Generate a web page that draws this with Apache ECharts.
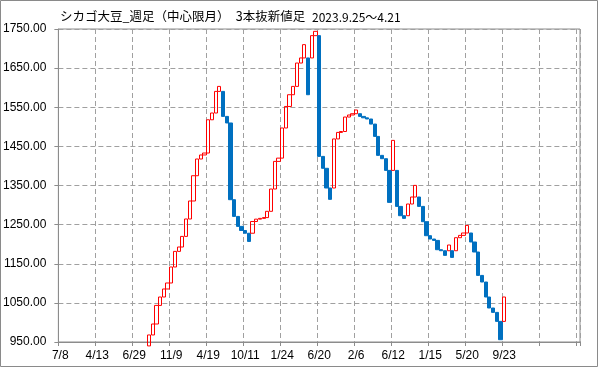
<!DOCTYPE html>
<html>
<head>
<meta charset="utf-8">
<script src="https://cdn.jsdelivr.net/npm/echarts@6/dist/echarts.min.js"></script>
<style>
html,body{margin:0;padding:0;background:#fff;}
#c{width:599px;height:369px;}
</style>
</head>
<body>
<div id="c"></div>
<script>
// Axis tick labels (every 10th line of the chart)
const tickLabels = ['7/8','4/13','6/29','11/9','4/19','10/11','1/24','6/20','2/6','6/12','1/15','5/20','9/23'];
// Number of lines before the first one visible (below 950) and empty slots after the last one
const hiddenLeading = 24;
const emptyTrailing = 20;
// Three-line-break lines: opening and closing values, in order
const lineOpen = [
  940, 968, 996, 1043.5, 1065, 1085.5, 1100.8, 1141.7, 1181.6, 1192.8,
  1219.9, 1264.4, 1310.4, 1375, 1417.7, 1428, 1433, 1518, 1535.3, 1590.5,
  1590.5, 1526.6, 1509.8, 1313.7, 1271, 1245.5, 1235, 1228, 1228, 1258,
  1264, 1266, 1268, 1284, 1341, 1411.6, 1420, 1497, 1552, 1582,
  1603.3, 1663, 1676, 1676, 1676, 1733, 1733, 1424.4, 1394, 1343.6,
  1343.6, 1469, 1485.7, 1488, 1525, 1530.2, 1533.5, 1533.5, 1526.6, 1523,
  1520, 1507, 1475.5, 1427, 1418.5, 1388.6, 1388.6, 1388.6, 1296.6, 1272.8,
  1272.8, 1302.7, 1320.6, 1320.6, 1296.6, 1257.5, 1221.7, 1213.2, 1209.7, 1185.9,
  1183.3, 1183.3, 1183.3, 1183.3, 1216.6, 1222.5, 1228.6, 1228.6, 1205.6, 1180,
  1120.2, 1103.3, 1065, 1036.9, 1025.7, 1002.7, 1002.7
];
const lineClose = [
  968, 996, 1043.5, 1065, 1085.5, 1100.8, 1141.7, 1181.6, 1192.8, 1219.9,
  1264.4, 1310.4, 1375, 1417.7, 1428, 1433, 1518, 1535.3, 1590.5, 1603.3,
  1526.6, 1509.8, 1313.7, 1271, 1245.5, 1235, 1228, 1207, 1258, 1264,
  1266, 1268, 1284, 1341, 1411.6, 1420, 1497, 1552, 1582, 1603.3,
  1663, 1676, 1710, 1582, 1733, 1744, 1424.4, 1394, 1343.6, 1314.6,
  1469, 1485.7, 1488, 1525, 1530.2, 1533.5, 1543, 1526.6, 1523, 1520,
  1507, 1475.5, 1427, 1418.5, 1388.6, 1306.8, 1465.3, 1296.6, 1272.8, 1266,
  1302.7, 1320.6, 1350.3, 1296.6, 1257.5, 1221.7, 1213.2, 1209.7, 1185.9, 1183.3,
  1171.4, 1197.9, 1166.2, 1216.6, 1222.5, 1228.6, 1248, 1205.6, 1180, 1120.2,
  1103.3, 1065, 1036.9, 1025.7, 1002.7, 955.9, 1065
];

const total = hiddenLeading + lineOpen.length + emptyTrailing;
const categories = [];
for (let i = 0; i < total; i++) {
  categories.push(i % 10 === 0 && tickLabels[i / 10] ? tickLabels[i / 10] : '');
}
const candleData = [];
for (let i = 0; i < total; i++) {
  const k = i - hiddenLeading;
  if (k >= 0 && k < lineOpen.length) {
    const o = lineOpen[k], c = lineClose[k];
    candleData.push([o, c, Math.min(o, c), Math.max(o, c)]);
  } else {
    candleData.push('-');
  }
}

const chart = echarts.init(document.getElementById('c'), null, {renderer: 'canvas'});
const gridGrey = '#a0a0a0';
const axisGrey = '#8c8c8c';
chart.setOption({
  animation: false,
  backgroundColor: '#ffffff',
  grid: {left: 57, right: 19, top: 29, bottom: 27, show: true, borderColor: axisGrey, borderWidth: 1},
  xAxis: {
    type: 'category',
    data: categories,
    boundaryGap: true,
    axisLine: {lineStyle: {color: axisGrey, width: 1}},
    axisTick: {show: true, interval: 9, length: 4, alignWithLabel: false, lineStyle: {color: axisGrey}},
    axisLabel: {interval: 9, color: '#000', fontSize: 12, fontFamily: 'Liberation Sans, Arial, sans-serif', margin: 8, hideOverlap: false},
    splitLine: {show: true, interval: 9, lineStyle: {color: gridGrey, type: [5, 3], width: 1}}
  },
  yAxis: {
    type: 'value',
    min: 950, max: 1750, interval: 100,
    axisLine: {show: true, lineStyle: {color: axisGrey, width: 1}},
    axisTick: {show: true, length: 4, lineStyle: {color: axisGrey}},
    axisLabel: {color: '#000', fontSize: 12, fontFamily: 'Liberation Sans, Arial, sans-serif', margin: 12,
      formatter: v => v.toFixed(2)},
    splitLine: {show: true, lineStyle: {color: gridGrey, type: [5, 3], width: 1}}
  },
  series: [{
    type: 'candlestick',
    data: candleData,
    barWidth: '100%',
    clip: true,
    itemStyle: {color: 'rgba(255,255,255,0)', borderColor: '#ff0000', color0: '#0070c0', borderColor0: '#0070c0', borderWidth: 1},
    emphasis: {disabled: true}
  }],
  graphic: [
    {type: 'rect', shape: {x: 0.5, y: 0.5, width: 597, height: 366}, style: {fill: 'none', stroke: '#8a8a8a', lineWidth: 1}, silent: true},
    {type: 'text', left: 60, top: 10, style: {text: 'シカゴ大豆_週足（中心限月）　3本抜新値足', font: '12.5px "Noto Sans CJK JP"', fill: '#000'}},
    {type: 'text', left: 312, top: 11, style: {text: '2023.9.25～4.21', font: '12px "Noto Sans CJK JP"', fill: '#000'}}
  ]
});
</script>
</body>
</html>
